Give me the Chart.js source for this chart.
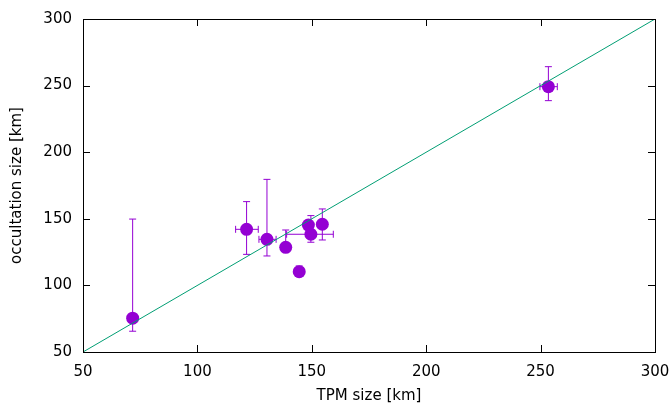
<!DOCTYPE html>
<html>
<head>
<meta charset="utf-8">
<script src="https://cdn.jsdelivr.net/npm/chart.js@4.4.1/dist/chart.umd.min.js"></script>
<style>
  html, body { margin: 0; padding: 0; background: #fff; }
</style>
</head>
<body>
<canvas id="myChart" width="671" height="405"></canvas>
<script>
// TPM size vs occultation size (km)
const tpmSize  = [71.7, 121.5, 130.4, 138.6, 144.5, 148.5, 149.6, 154.6, 253.4];
const tpmLow   = [71.7, 116.7, 126.9, 138.6, 144.5, 148.5, 139.0, 154.6, 249.7];
const tpmHigh  = [71.7, 126.6, 134.4, 138.6, 144.5, 148.5, 159.4, 154.6, 257.3];
const occSize  = [75.4, 142.1, 134.6, 128.6, 110.3, 145.3, 138.4, 145.9, 249.2];
const occLow   = [65.6, 123.3, 122.1, 125.5, 107.0, 145.3, 132.4, 134.1, 238.7];
const occHigh  = [149.8, 162.9, 179.6, 141.6, 114.6, 145.3, 152.4, 157.4, 264.2];
const diagX = [50, 300];
const diagY = [50, 300];
const tickValues = [50, 100, 150, 200, 250, 300];

const fontMain = { family: 'DejaVu Sans', size: 15 };

const errorBars = {
  id: 'errorBars',
  beforeDatasetsDraw(chart) {
    const c = chart.ctx;
    const xs = chart.scales.x, ys = chart.scales.y;
    const cap = 3.5;
    c.save();
    c.strokeStyle = '#9400d3';
    c.lineWidth = 1;
    c.beginPath();
    for (let i = 0; i < tpmSize.length; i++) {
      const px = xs.getPixelForValue(tpmSize[i]);
      const py = ys.getPixelForValue(occSize[i]);
      if (occLow[i] !== occHigh[i]) {
        const y1 = ys.getPixelForValue(occLow[i]);
        const y2 = ys.getPixelForValue(occHigh[i]);
        c.moveTo(px, y1); c.lineTo(px, y2);
        c.moveTo(px - cap, y1); c.lineTo(px + cap, y1);
        c.moveTo(px - cap, y2); c.lineTo(px + cap, y2);
      }
      if (tpmLow[i] !== tpmHigh[i]) {
        const x1 = xs.getPixelForValue(tpmLow[i]);
        const x2 = xs.getPixelForValue(tpmHigh[i]);
        c.moveTo(x1, py); c.lineTo(x2, py);
        c.moveTo(x1, py - cap); c.lineTo(x1, py + cap);
        c.moveTo(x2, py - cap); c.lineTo(x2, py + cap);
      }
    }
    c.stroke();
    c.restore();
  }
};

const frame = {
  id: 'frame',
  afterDraw(chart) {
    const c = chart.ctx;
    const a = chart.chartArea;
    const xs = chart.scales.x, ys = chart.scales.y;
    const tl = 7;
    c.save();
    c.strokeStyle = '#000';
    c.lineWidth = 1;
    c.beginPath();
    tickValues.forEach(v => {
      const px = Math.round(xs.getPixelForValue(v)) + 0.5;
      c.moveTo(px, a.bottom); c.lineTo(px, a.bottom - tl);
      c.moveTo(px, a.top); c.lineTo(px, a.top + tl);
      const py = Math.round(ys.getPixelForValue(v)) + 0.5;
      c.moveTo(a.left, py); c.lineTo(a.left + tl, py);
      c.moveTo(a.right, py); c.lineTo(a.right - tl, py);
    });
    c.stroke();
    c.strokeRect(Math.round(a.left) + 0.5, Math.round(a.top) + 0.5,
                 Math.round(a.right - a.left), Math.round(a.bottom - a.top));
    c.restore();
  }
};

const ctx = document.getElementById('myChart');
new Chart(ctx, {
  type: 'scatter',
  data: {
    datasets: [{
      type: 'line',
      data: diagX.map((x, i) => ({ x: x, y: diagY[i] })),
      borderColor: '#009e73',
      borderWidth: 1,
      pointRadius: 0,
      fill: false
    }, {
      data: tpmSize.map((x, i) => ({ x: x, y: occSize[i] })),
      backgroundColor: '#9400d3',
      borderColor: '#9400d3',
      borderWidth: 0,
      pointRadius: 6.5
    }]
  },
  options: {
    responsive: false,
    animation: false,
    layout: { padding: { left: 0, right: 16, top: 19, bottom: 0 } },
    plugins: { legend: { display: false }, tooltip: { enabled: false } },
    scales: {
      x: {
        type: 'linear', min: 50, max: 300,
        afterBuildTicks(s) { s.ticks = tickValues.map(v => ({ value: v })); },
        ticks: { color: '#000', font: fontMain, padding: 11, maxRotation: 0 },
        grid: { display: false, drawTicks: false },
        border: { display: false },
        title: { display: true, text: 'TPM size [km]', color: '#000', font: fontMain, padding: 0 },
        afterFit(s) { s.height = 53; s.paddingLeft = 0; s.paddingRight = 0; }
      },
      y: {
        type: 'linear', min: 50, max: 300,
        afterBuildTicks(s) { s.ticks = tickValues.map(v => ({ value: v })); },
        ticks: { color: '#000', font: fontMain, padding: 11 },
        grid: { display: false, drawTicks: false },
        border: { display: false },
        title: { display: true, text: 'occultation size [km]', color: '#000', font: fontMain, padding: 8 },
        afterFit(s) { s.width = 83; s.paddingTop = 0; s.paddingBottom = 0; }
      }
    }
  },
  plugins: [errorBars, frame]
});
</script>
</body>
</html>
